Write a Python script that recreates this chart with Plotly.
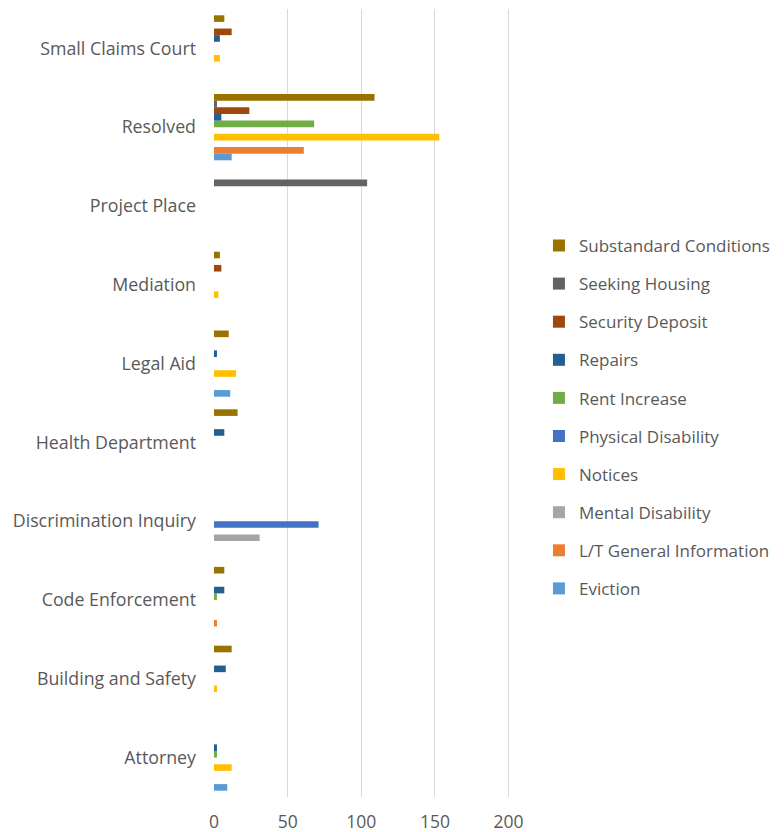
import plotly.graph_objects as go

categories = ["Attorney", "Building and Safety", "Code Enforcement", "Discrimination Inquiry",
              "Health Department", "Legal Aid", "Mediation", "Project Place", "Resolved",
              "Small Claims Court"]

series_names = ["Eviction", "L/T General Information", "Mental Disability", "Notices",
                "Physical Disability", "Rent Increase", "Repairs", "Security Deposit",
                "Seeking Housing", "Substandard Conditions"]

eviction = [9, 0, 0, 0, 0, 11, 0, 0, 12, 0]
lt_general = [0, 0, 2, 0, 0, 0, 0, 0, 61, 0]
mental_disability = [0, 0, 0, 31, 0, 0, 0, 0, 0, 0]
notices = [12, 2, 0, 0, 0, 15, 3, 0, 153, 4]
physical_disability = [0, 0, 0, 71, 0, 0, 0, 0, 0, 0]
rent_increase = [2, 0, 2, 0, 0, 0, 0, 0, 68, 0]
repairs = [2, 8, 7, 0, 7, 2, 0, 0, 5, 4]
security_deposit = [0, 0, 0, 0, 0, 0, 5, 0, 24, 12]
seeking_housing = [0, 0, 0, 0, 0, 0, 0, 104, 2, 0]
substandard = [0, 12, 7, 0, 16, 10, 4, 0, 109, 7]

series_values = [eviction, lt_general, mental_disability, notices, physical_disability,
                 rent_increase, repairs, security_deposit, seeking_housing, substandard]
colors = ["#5B9BD5", "#ED7D31", "#A5A5A5", "#FFC000", "#4472C4",
          "#70AD47", "#255E91", "#9E480E", "#636363", "#997300"]

x_ticks = [0, 50, 100, 150, 200]

fig = go.Figure()
n = len(series_names)
for i, (name, vals, col) in enumerate(zip(series_names, series_values, colors)):
    fig.add_trace(go.Bar(
        y=categories, x=vals, name=name, orientation="h",
        marker=dict(color=col, line=dict(width=0)),
        legendgroup=name, legendrank=n - i,
    ))

FONT = "Open Sans, Lato, sans-serif"
fig.update_layout(
    width=776, height=824,
    margin=dict(l=205.5, r=274, t=0.5, b=34.5),
    plot_bgcolor="white", paper_bgcolor="white",
    barmode="group", bargap=0.16, bargroupgap=0,
    font=dict(family=FONT, size=17, color="#595959"),
    xaxis=dict(range=[0, 201], tickvals=x_ticks, showgrid=True, gridcolor="#D9D9D9",
               gridwidth=1, zeroline=False, showline=False, ticks="", automargin=False,
               ticklabelstandoff=12,
               tickfont=dict(size=17.5, color="#595959")),
    yaxis=dict(type="category", categoryorder="array", categoryarray=categories,
               showgrid=False, zeroline=False, showline=False, ticks="", automargin=False,
               ticklabelstandoff=17,
               tickfont=dict(size=17.8, color="#595959")),
    legend=dict(x=1.0978, xanchor="left", y=0.4823, yanchor="middle",
                traceorder="grouped", tracegroupgap=13,
                font=dict(size=17, color="#595959"), itemwidth=30,
                bgcolor="rgba(0,0,0,0)"),
    showlegend=True,
)

fig.write_html("out.html")
